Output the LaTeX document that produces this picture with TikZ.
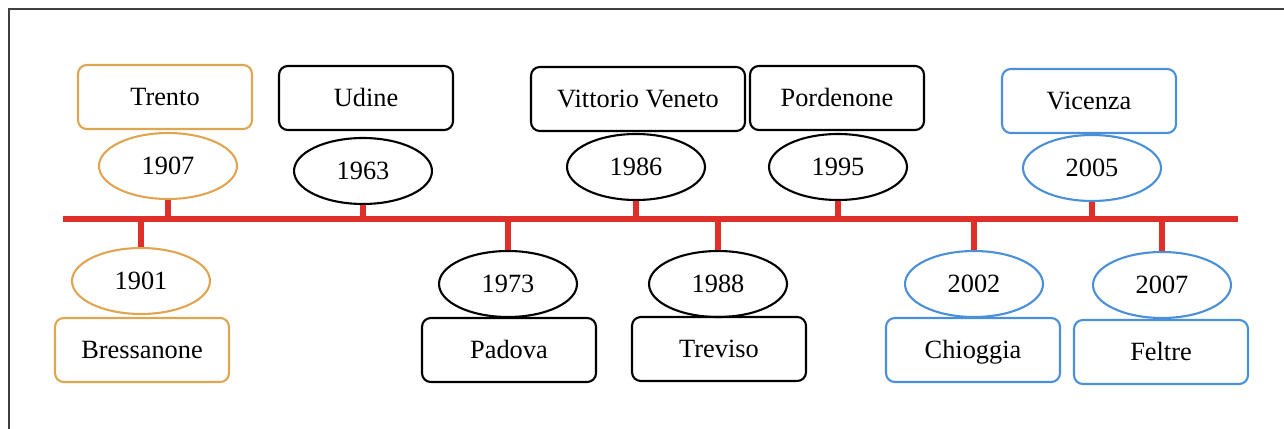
\documentclass[tikz,border=0pt]{standalone}
\usepackage{fontspec}
\setmainfont{Liberation Serif}
\usetikzlibrary{shapes.geometric}
\definecolor{ochre}{RGB}{222,166,82}
\definecolor{sky}{RGB}{74,144,217}
\definecolor{tlred}{RGB}{222,48,40}
\tikzset{
	city/.style={draw,rounded corners=5pt,line width=1.2pt,inner sep=0pt,
		text height=10pt,text depth=0pt,
		minimum width=3.48cm,minimum height=1.28cm,font=\fontsize{15}{17}\selectfont},
	year/.style={draw,ellipse,line width=1.2pt,inner sep=0pt,
		minimum width=2.76cm,minimum height=1.32cm,font=\fontsize{15}{17}\selectfont},
	stem/.style={tlred,line width=3pt},
	axis/.style={tlred,line width=3.7pt}
}
\begin{document}
\begin{tikzpicture}[x=0.02cm,y=-0.02cm]
\useasboundingbox (0,0) rectangle (1284,429);
\draw[black!75,line width=0.9pt](9,429)--(9,9)--(1284,9);
\coordinate (tlstart) at (63,219);
\coordinate (tlend) at (1238,219);
\draw[axis](tlstart)--(tlend);
% above the line
\node[city,ochre] (trento) at (165,97){\color{black}Trento};
\node[year,ochre] (y1907) at (168,166){\color{black}1907};
\node[city] (udine) at (366,98){Udine};
\node[year] (y1963) at (363,171){1963};
\node[city,minimum width=4.28cm] (vittorio) at (638,99){Vittorio Veneto};
\node[year] (y1986) at (636,167){1986};
\node[city] (pordenone) at (837,98){Pordenone};
\node[year] (y1995) at (838,167){1995};
\node[city,sky] (vicenza) at (1089,101){\color{black}Vicenza};
\node[year,sky] (y2005) at (1092,168){\color{black}2005};
% below the line
\node[year,ochre] (y1901) at (141,281){\color{black}1901};
\node[city,ochre] (bressanone) at (142,350){\color{black}Bressanone};
\node[year] (y1973) at (508,284){1973};
\node[city] (padova) at (509,350){Padova};
\node[year] (y1988) at (718,284){1988};
\node[city] (treviso) at (719,349){Treviso};
\node[year,sky] (y2002) at (974,284){\color{black}2002};
\node[city,sky] (chioggia) at (973,350){\color{black}Chioggia};
\node[year,sky] (y2007) at (1162,285){\color{black}2007};
\node[city,sky] (feltre) at (1161,352){\color{black}Feltre};
% stems
\draw[stem](y1907.south)--(y1907.south|-tlstart);
\draw[stem](y1963.south)--(y1963.south|-tlstart);
\draw[stem](y1986.south)--(y1986.south|-tlstart);
\draw[stem](y1995.south)--(y1995.south|-tlstart);
\draw[stem](y2005.south)--(y2005.south|-tlstart);
\draw[stem](y1901.north)--(y1901.north|-tlstart);
\draw[stem](y1973.north)--(y1973.north|-tlstart);
\draw[stem](y1988.north)--(y1988.north|-tlstart);
\draw[stem](y2002.north)--(y2002.north|-tlstart);
\draw[stem](y2007.north)--(y2007.north|-tlstart);
\end{tikzpicture}
\end{document}
